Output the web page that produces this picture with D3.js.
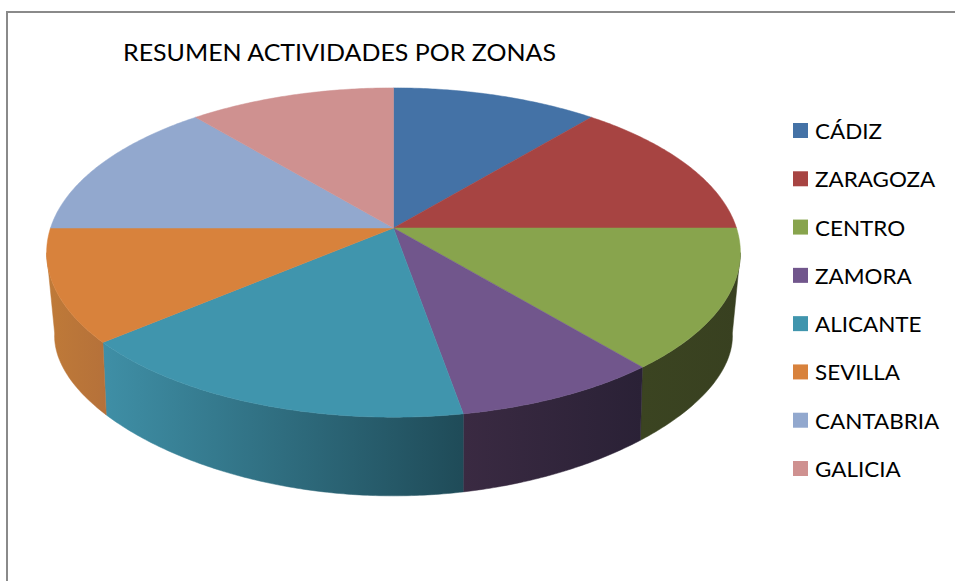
<!DOCTYPE html>
<html>
<head>
<meta charset="utf-8">
<script src="https://cdn.jsdelivr.net/npm/d3@7"></script>
<style>
  html, body { margin: 0; padding: 0; background: #fff; }
  text { font-family: Lato, "Open Sans", sans-serif; fill: #000; }
</style>
</head>
<body>
<div id="canvas"></div>
<script>
"use strict"

const zonas = ["CÁDIZ", "ZARAGOZA", "CENTRO", "ZAMORA", "ALICANTE", "SEVILLA", "CANTABRIA", "GALICIA"];
const actividades = [4, 5, 5, 3, 6, 4, 5, 4];
const colores = ["#4472a6", "#a74442", "#88a44d", "#71568c", "#4095ad", "#d8823c", "#92a8ce", "#cf9190"];
// side wall shading, left colour then right colour
const paredIzq = ["#000", "#000", "#3b4421", "#3a2a42", "#3f8fa6", "#bf7a38", "#000", "#000"];
const paredDer = ["#000", "#000", "#384020", "#2a2136", "#1f4b58", "#b5713a", "#000", "#000"];

let drawingWidth = 955;
let drawingHeight = 581;

let drawing = d3.select("#canvas")
    .append("svg")
    .attr("width", drawingWidth)
    .attr("height", drawingHeight)
    .style("display", "block");

// frame, only top and left show in the picture
drawing.append("path")
    .attr("d", "M7,581V12H955")
    .attr("fill", "none")
    .attr("stroke", "#8a8a8a")
    .attr("stroke-width", 2);

drawing.append("text")
    .attr("x", 123)
    .attr("y", 61)
    .attr("font-size", 22.5)
    .attr("textLength", 433)
    .attr("lengthAdjust", "spacingAndGlyphs")
    .text("RESUMEN ACTIVIDADES POR ZONAS");

// top face: unit circle to screen, with a bit of perspective
const cx = 393.5, cy = 228;
const xTop = d3.scaleLinear().domain([-1, 1]).range([cx - 343, cx + 343]);
const yTop = d3.scaleLinear().domain([-1, 1]).range([cy - 161, cy + 161]);
const xBot = d3.scaleLinear().domain([-1, 1]).range([cx - 334, cx + 334]);
const yBot = d3.scaleLinear().domain([-1, 1]).range([cy + 85 - 128, cy + 85 + 128]);

function topPoint(a) {
    let u = Math.sin(a), v = -Math.cos(a), w = 1 - 0.149 * v;
    return [xTop(u / w), yTop(v / w)];
}
function botPoint(a) {
    let u = Math.sin(a), v = -Math.cos(a);
    return [xBot(u / (1 - 0.17 * v)), yBot(v / (1 - 0.3 * v))];
}
function arcAngles(a0, a1) {
    let n = Math.max(2, Math.ceil((a1 - a0) / 0.01));
    return d3.range(n + 1).map(i => a0 + (a1 - a0) * i / n);
}

const slices = d3.pie().sort(null).value(d => d)(actividades);
const line = d3.line();

// walls are only visible between the two silhouette points
const wallStart = 98.6 * Math.PI / 180;
const wallEnd = 261.4 * Math.PI / 180;

let defs = drawing.append("defs");
let walls = slices
    .map((s, i) => ({i: i, a0: Math.max(s.startAngle, wallStart), a1: Math.min(s.endAngle, wallEnd)}))
    .filter(d => d.a1 > d.a0);

walls.forEach(d => {
    let xs = arcAngles(d.a0, d.a1).flatMap(a => [topPoint(a)[0], botPoint(a)[0]]);
    let g = defs.append("linearGradient")
        .attr("id", "pared" + d.i)
        .attr("gradientUnits", "userSpaceOnUse")
        .attr("x1", d3.min(xs)).attr("x2", d3.max(xs))
        .attr("y1", 0).attr("y2", 0);
    g.append("stop").attr("offset", 0).attr("stop-color", paredIzq[d.i]);
    g.append("stop").attr("offset", 1).attr("stop-color", paredDer[d.i]);
});

drawing.append("g").selectAll("path")
    .data(walls)
    .join("path")
    .attr("d", d => {
        let ang = arcAngles(d.a0, d.a1);
        return line(ang.map(topPoint).concat(ang.slice().reverse().map(botPoint))) + "Z";
    })
    .attr("fill", d => "url(#pared" + d.i + ")")
    .attr("stroke", d => "url(#pared" + d.i + ")")
    .attr("stroke-width", 0.5);

drawing.append("g").selectAll("path")
    .data(slices)
    .join("path")
    .attr("d", s => line([[cx, cy]].concat(arcAngles(s.startAngle, s.endAngle).map(topPoint))) + "Z")
    .attr("fill", (s, i) => colores[i])
    .attr("stroke", (s, i) => colores[i])
    .attr("stroke-width", 0.5);

// legend
const yLegend = d3.scalePoint().domain(zonas).range([131, 469]);

let legend = drawing.append("g").selectAll("g")
    .data(zonas)
    .join("g")
    .attr("transform", d => "translate(793," + yLegend(d) + ")");

legend.append("rect")
    .attr("y", -8)
    .attr("width", 15)
    .attr("height", 15)
    .attr("fill", (d, i) => colores[i]);

legend.append("text")
    .attr("x", 22)
    .attr("y", 8)
    .attr("font-size", 22)
    .text(d => d);

legend.selectAll("text").each(function () {
    // stretch a touch to sit on the original label widths
    let w = this.getComputedTextLength();
    d3.select(this).attr("textLength", w * 1.02).attr("lengthAdjust", "spacingAndGlyphs");
});
</script>
</body>
</html>
